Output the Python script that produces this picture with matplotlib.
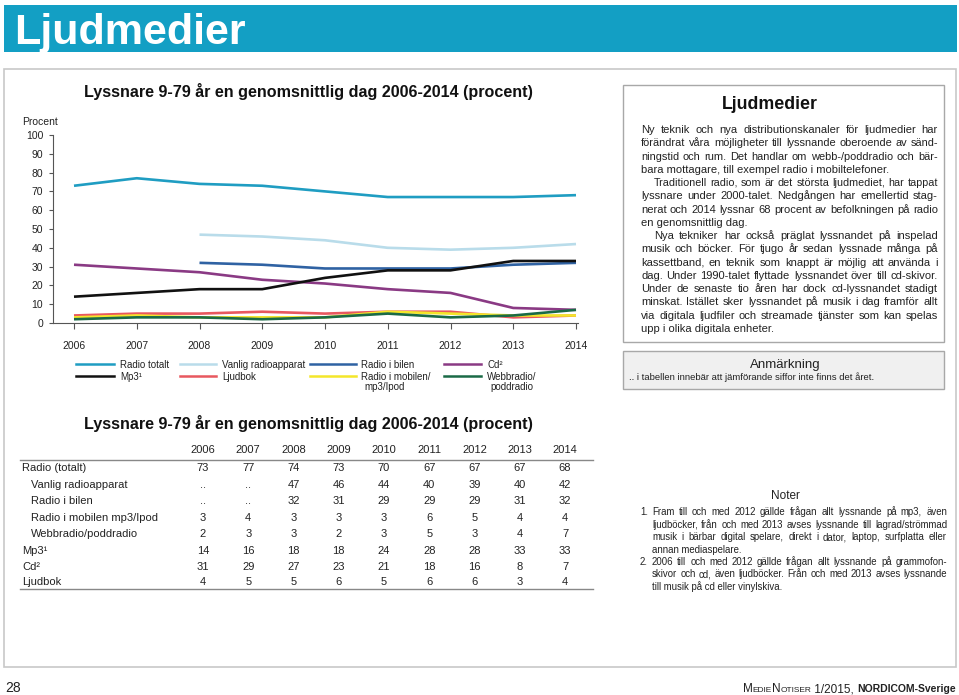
import matplotlib
matplotlib.use("Agg")
import matplotlib.pyplot as plt
from matplotlib.patches import Rectangle
from matplotlib.lines import Line2D
from matplotlib import font_manager
import numpy as np

plt.rcParams['font.family'] = ['Liberation Sans', 'DejaVu Sans']
_avail = {f.name for f in font_manager.fontManager.ttflist}
NARROW = 'Liberation Sans Narrow' if 'Liberation Sans Narrow' in _avail else 'Liberation Sans'
REG = 'Liberation Sans'

# ---------------- data ----------------
years = [2006, 2007, 2008, 2009, 2010, 2011, 2012, 2013, 2014]
radio_totalt = [73, 77, 74, 73, 70, 67, 67, 67, 68]
vanlig_radio = [None, None, 47, 46, 44, 40, 39, 40, 42]
radio_bilen = [None, None, 32, 31, 29, 29, 29, 31, 32]
radio_mobilen = [3, 4, 3, 3, 3, 6, 5, 4, 4]
webbradio = [2, 3, 3, 2, 3, 5, 3, 4, 7]
mp3 = [14, 16, 18, 18, 24, 28, 28, 33, 33]
cd = [31, 29, 27, 23, 21, 18, 16, 8, 7]
ljudbok = [4, 5, 5, 6, 5, 6, 6, 3, 4]

yticks = [0, 10, 20, 30, 40, 50, 60, 70, 80, 90, 100]

series_names = ["Radio totalt", "Vanlig radioapparat", "Radio i bilen", "Cd\u00b2",
                "Mp3\u00b9", "Ljudbok", "Radio i mobilen/\nmp3/Ipod", "Webbradio/\npoddradio"]
series_values = [radio_totalt, vanlig_radio, radio_bilen, cd, mp3, ljudbok, radio_mobilen, webbradio]
series_colors = ["#1f9dc2", "#b9dcea", "#2f62a3", "#8a3a84", "#111111", "#e8585f", "#f4e62a", "#1a6a46"]

table_rows = ["Radio (totalt)", "Vanlig radioapparat", "Radio i bilen", "Radio i mobilen mp3/Ipod",
              "Webbradio/poddradio", "Mp3\u00b9", "Cd\u00b2", "Ljudbok"]
table_values = [radio_totalt, vanlig_radio, radio_bilen, radio_mobilen, webbradio, mp3, cd, ljudbok]
table_indent = [False, True, True, True, True, False, False, False]

chart_title = "Lyssnare 9-79 år en genomsnittlig dag 2006-2014 (procent)"

body_lines = [
    ("Ny teknik och nya distributionskanaler för ljudmedier har", False, False),
    ("förändrat våra möjligheter till lyssnande oberoende av sänd-", False, False),
    ("ningstid och rum. Det handlar om webb-/poddradio och bär-", False, False),
    ("bara mottagare, till exempel radio i mobiltelefoner.", True, False),
    ("Traditionell radio, som är det största ljudmediet, har tappat", False, True),
    ("lyssnare under 2000-talet. Nedgången har emellertid stag-", False, False),
    ("nerat och 2014 lyssnar 68 procent av befolkningen på radio", False, False),
    ("en genomsnittlig dag.", True, False),
    ("Nya tekniker har också präglat lyssnandet på inspelad", False, True),
    ("musik och böcker. För tjugo år sedan lyssnade många på", False, False),
    ("kassettband, en teknik som knappt är möjlig att använda i", False, False),
    ("dag. Under 1990-talet flyttade lyssnandet över till cd-skivor.", False, False),
    ("Under de senaste tio åren har dock cd-lyssnandet stadigt", False, False),
    ("minskat. Istället sker lyssnandet på musik i dag framför allt", False, False),
    ("via digitala ljudfiler och streamade tjänster som kan spelas", False, False),
    ("upp i olika digitala enheter.", True, False),
]

note1 = [
    ("Fram till och med 2012 gällde frågan allt lyssnande på mp3, även", False, False),
    ("ljudböcker, från och med 2013 avses lyssnande till lagrad/strömmad", False, False),
    ("musik i bärbar digital spelare, direkt i dator, laptop, surfplatta eller", False, False),
    ("annan mediaspelare.", True, False),
]
note2 = [
    ("2006 till och med 2012 gällde frågan allt lyssnande på grammofon-", False, False),
    ("skivor och cd, även ljudböcker. Från och med 2013 avses lyssnande", False, False),
    ("till musik på cd eller vinylskiva.", True, False),
]

# ---------------- figure ----------------
W, H = 959, 695
fig = plt.figure(figsize=(W / 100, H / 100), dpi=100)
renderer = fig.canvas.get_renderer()
TXT = '#222222'


def fx(px):
    return px / W


def fy(py):
    return 1 - py / H


def rect(x0, y0, x1, y1, fc='none', ec='none', lw=1.0, z=0):
    fig.patches.append(Rectangle((fx(x0), fy(y1)), fx(x1) - fx(x0), fy(y0) - fy(y1),
                                 transform=fig.transFigure, facecolor=fc, edgecolor=ec,
                                 linewidth=lw, zorder=z))


def hline(x0, x1, y, color, lw):
    fig.add_artist(Line2D([fx(x0), fx(x1)], [fy(y), fy(y)], transform=fig.transFigure,
                          color=color, linewidth=lw))


def text(x, y, s, size=8, **kw):
    """y is the vertical centre of the capitals; placed on a baseline."""
    kw.setdefault('color', TXT)
    yb = y + 0.36 * size * 100 / 72
    return fig.text(fx(x), fy(yb), s, fontsize=size, va='baseline', **kw)


def width_of(s, size=8, **kw):
    t = fig.text(0, 0, s, fontsize=size, **kw)
    w = t.get_window_extent(renderer).width
    t.remove()
    return w


def fit(s, target, base=10, **kw):
    return base * target / width_of(s, size=base, **kw)


def line_sizes(lines, target, family, indent=13, pct=35):
    fits = []
    for ln, last, ind in lines:
        w = width_of(ln, size=10, family=family)
        fits.append(10 * (target - (indent if ind else 0)) / w * 0.985)
    full = [f for f, (ln, last, ind) in zip(fits, lines) if not last]
    base = float(np.percentile(full, pct))
    return [min(base, f) for f in fits]


def justify(line, x0, x1, y, size, family, last=False, indent=0):
    kw = dict(family=family)
    if last:
        text(x0 + indent, y, line, size=size, ha='left', **kw)
        return
    words = line.split()
    widths = [width_of(w, size=size, **kw) for w in words]
    gap = (x1 - x0 - indent - sum(widths)) / max(len(words) - 1, 1)
    x = x0 + indent
    for w, wd in zip(words, widths):
        text(x, y, w, size=size, ha='left', **kw)
        x += wd + gap


# header bar
rect(4, 5, 957, 52, fc='#139fc4')
hs = min(34, fit("Ljudmedier", 234, family=NARROW, fontweight='bold'))
text(14, 28, "Ljudmedier", size=hs, color='white', fontweight='bold', ha='left', family=NARROW)

# outer frame
rect(4, 69, 956, 667, ec='#c8c8c8', lw=1.2)

# ---------------- line chart ----------------
ax_l, ax_r, ax_t, ax_b = 53, 578, 135, 323
ax = fig.add_axes([fx(ax_l), fy(ax_b), fx(ax_r) - fx(ax_l), fy(ax_t) - fy(ax_b)])
ppy = (576 - 74) / 8.0
ax.set_xlim(2006 - (74 - ax_l) / ppy, 2014 + (ax_r - 576) / ppy)
ax.set_ylim(0, 100)
for vals, col in zip(series_values, series_colors):
    xs = [yr for yr, v in zip(years, vals) if v is not None]
    ys = [v for v in vals if v is not None]
    ax.plot(xs, ys, color=col, linewidth=1.9, solid_capstyle='butt', clip_on=False)
ax.set_xticks(years)
ax.set_xticklabels([str(y) for y in years])
ax.set_yticks(yticks)
for s in ['top', 'right']:
    ax.spines[s].set_visible(False)
for s in ['left', 'bottom']:
    ax.spines[s].set_color('#555555')
    ax.spines[s].set_linewidth(0.8)
ax.tick_params(axis='x', length=4, width=0.8, color='#555555', pad=9, labelsize=7.5, labelcolor=TXT)
ax.tick_params(axis='y', length=3, width=0.8, color='#555555', pad=4, labelsize=7.5, labelcolor=TXT)
ax.patch.set_alpha(0)
text(22, 121, "Procent", size=7.5, ha='left')
ts = fit(chart_title, 449, fontweight='bold')
text(308, 91, chart_title, size=ts, fontweight='bold', ha='center', color='#111111')

# legend
leg_pos = [(76, 114, 120, 364), (180, 216, 222, 364), (310, 356, 361, 364), (444, 481, 487, 364),
           (76, 114, 120, 376), (180, 216, 222, 376), (310, 356, 361, 376), (444, 481, 487, 376)]
for i, (lx0, lx1, tx, ly) in enumerate(leg_pos):
    fig.add_artist(Line2D([fx(lx0), fx(lx1)], [fy(ly), fy(ly)], transform=fig.transFigure,
                          color=series_colors[i], linewidth=1.8))
    parts = series_names[i].split("\n")
    text(tx, ly, parts[0], size=7, ha='left', family=NARROW)
    if len(parts) > 1:
        text(tx + 3, ly + 11, parts[1], size=7, ha='left', family=NARROW)

# ---------------- right text box ----------------
rect(623, 85, 944, 342, fc='white', ec='#a8a8a8', lw=1.0)
bs = fit("Ljudmedier", 96, fontweight='bold', family=NARROW)
text(770, 103, "Ljudmedier", size=bs, fontweight='bold', ha='center', color='#111111', family=NARROW)
bsz = line_sizes(body_lines, 938 - 641, REG)
y0, dy = 129, (328 - 129) / 15.0
for k, ((ln, last, ind), sz) in enumerate(zip(body_lines, bsz)):
    justify(ln, 641, 938, y0 + k * dy, sz, REG, last=last, indent=13 if ind else 0)

# Anmärkning box
rect(623, 351, 944, 389, fc='#f0f0f0', ec='#a8a8a8', lw=1.0)
text(785, 363, "Anmärkning", size=9.5, ha='center')
text(629, 377, ".. i tabellen innebär att jämförande siffor inte finns det året.", size=6.8, ha='left')

# ---------------- table ----------------
text(308, 423, chart_title, size=ts, fontweight='bold', ha='center', color='#111111')
col_x = [203 + i * (565 - 203) / 8.0 for i in range(9)]
for cx, yr in zip(col_x, years):
    text(cx, 449, str(yr), size=8, ha='center')
hline(20, 593, 460, '#888888', 1.0)
row_y = [467, 484, 500, 517, 533, 550, 566, 581]
for ry, name, vals, ind in zip(row_y, table_rows, table_values, table_indent):
    text(31 if ind else 22, ry, name, size=8, ha='left')
    for cx, v in zip(col_x, vals):
        text(cx, ry, ".." if v is None else str(v), size=8, ha='center')
hline(20, 593, 589, '#888888', 1.0)

# ---------------- notes ----------------
text(785, 495, "Noter", size=8.5, ha='center')
nsz = line_sizes(note1 + note2, 947 - 652, REG)
ny, ndy = 512, 12.4
text(640, ny, "1.", size=nsz[0], ha='left', family=REG)
for k, (ln, last, ind) in enumerate(note1):
    justify(ln, 652, 947, ny + k * ndy, nsz[k], REG, last=last)
ny2 = ny + len(note1) * ndy
text(640, ny2, "2.", size=nsz[0], ha='left', family=REG)
for k, (ln, last, ind) in enumerate(note2):
    justify(ln, 652, 947, ny2 + k * ndy, nsz[len(note1) + k], REG, last=last)

# ---------------- footer ----------------
text(5, 687, "28", size=10, ha='left')
pieces = [("M", 8.5, 'normal'), ("EDIE", 6, 'normal'), ("N", 8.5, 'normal'), ("OTISER", 6, 'normal'),
          (" 1/2015, ", 8.5, 'normal'), ("NORDICOM-Sverige", 7.5, 'bold')]
total = sum(width_of(p, size=s, fontweight=w) for p, s, w in pieces)
x = 956 - total
for p, s, w in pieces:
    fig.text(fx(x), fy(692), p, fontsize=s, fontweight=w, ha='left', va='baseline', color=TXT)
    x += width_of(p, size=s, fontweight=w)

fig.savefig("out.png", dpi=100)
